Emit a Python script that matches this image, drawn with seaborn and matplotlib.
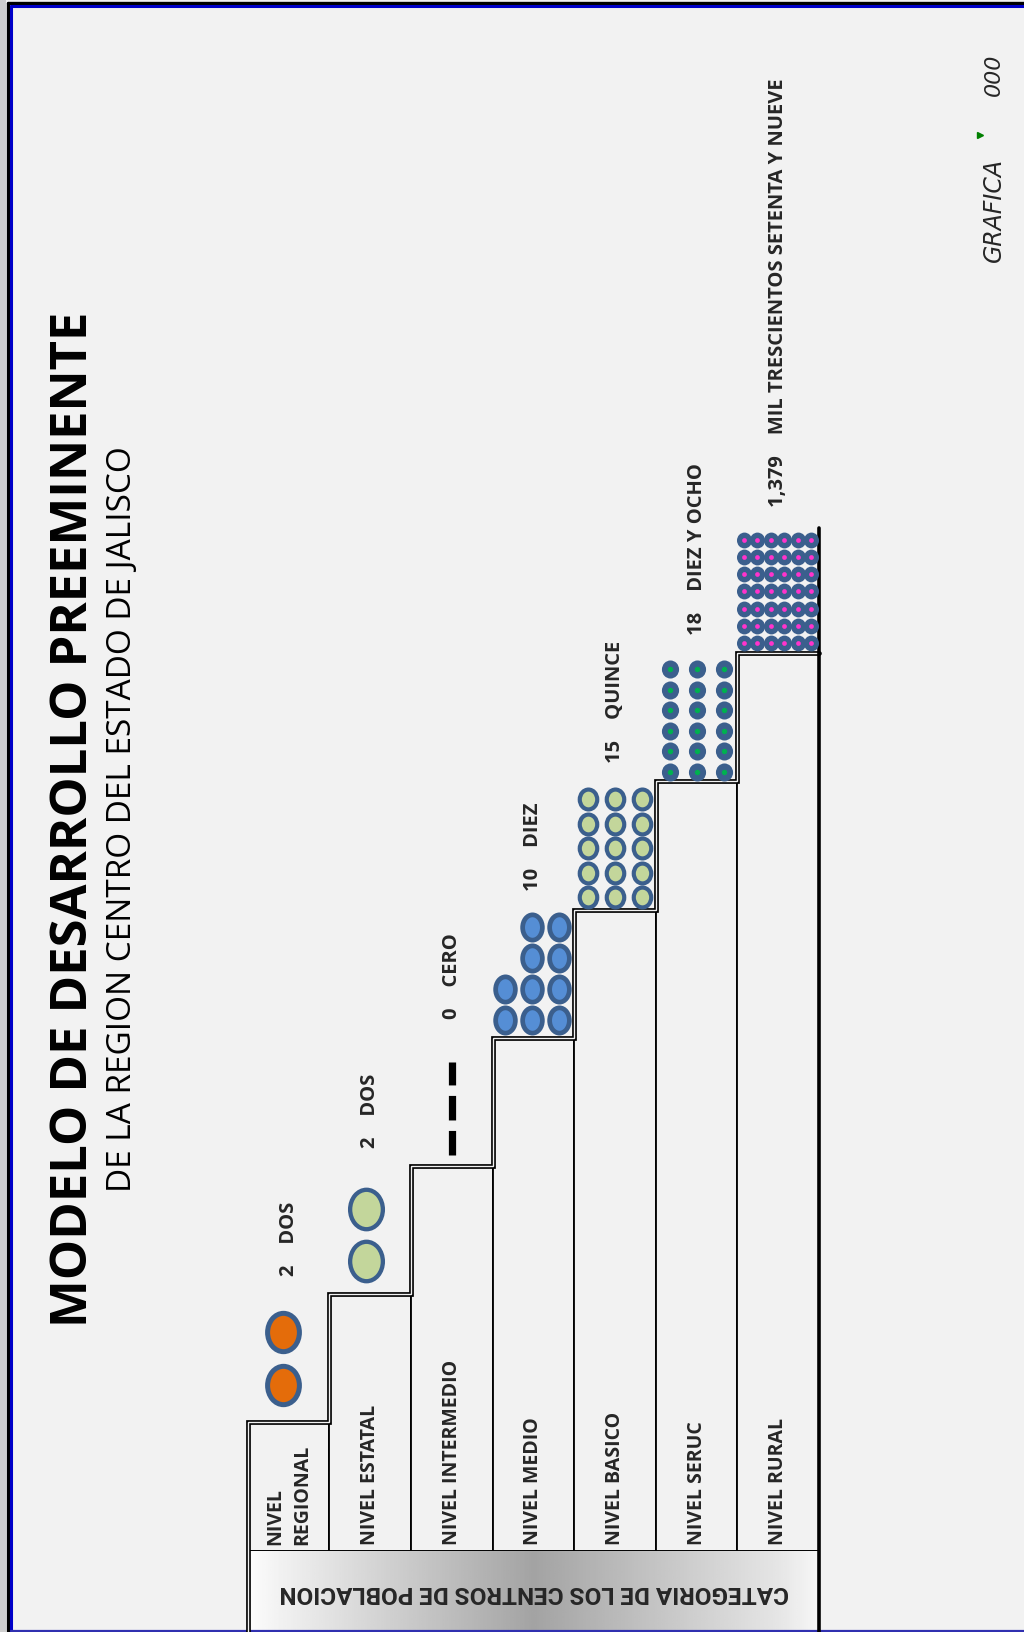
import numpy as np
import pandas as pd
import seaborn as sns
import matplotlib.pyplot as plt
from matplotlib.path import Path
from matplotlib.markers import MarkerStyle
from matplotlib.transforms import Affine2D

# data
categories = ["NIVEL\nREGIONAL", "NIVEL ESTATAL", "NIVEL INTERMEDIO", "NIVEL MEDIO",
              "NIVEL BASICO", "NIVEL SERUC", "NIVEL RURAL"]
levels = [1, 2, 3, 4, 5, 6, 7]
centros = ["2", "2", "0", "10", "15", "18", "1,379"]
centros_texto = ["DOS", "DOS", "CERO", "DIEZ", "QUINCE", "DIEZ Y OCHO",
                 "MIL TRESCIENTOS SETENTA Y NUEVE"]
iconos = [2, 2, 0, 10, 15, 18, 42]   # symbols drawn on each step

titulo = "MODELO DE DESARROLLO PREEMINENTE"
subtitulo = "DE LA REGION CENTRO DEL ESTADO DE JALISCO"
pie = "CATEGORIA DE LOS CENTROS DE POBLACION"

# symbol styles per step
icon_cols = [1, 1, 1, 3, 3, 3, 6]
icon_face = ["#e46c0a", "#c3d69b", "black", "#558ed5", "#c3d69b", "#3b5f8d", "#3b5f8d"]
icon_edge = "#3b5f8d"
icon_dot = [None, None, None, None, None, "#00b050", "#ff33cc"]
icon_h = [27.6, 28.4, 0, 18.2, 14.3, 13.0, 11.4]
icon_ratio = [0.83, 0.83, 1, 0.78, 0.88, 0.95, 0.95]
icon_lw = [3.6, 3.1, 0, 3.4, 3.0, 0, 0]
icon_dx = [0, 0, 0, 0.33, 0.331, 0.331, 0.332]
icon_pair = [0, 0, 0, 0, 0, 0, 0.153]   # rural symbols come in overlapping pairs
icon_y0 = [0.292, 0.261, 0, 0.139, 0.096, 0.076, 0.08]
icon_dy = [0.415, 0.40, 0, 0.243, 0.191, 0.16, 0.134]
icon_shift = [-0.064, -0.054, 0, -0.02, 0, 0, -0.01]

BG = "#f2f2f2"
W, H = 1024, 1632
X0, X1 = 247.7, 819.0          # staircase left / right (px)
BASE = 1550.6                  # bottom of the steps (px)
STEP = 128.2                   # px per level

sns.set_style("white")
plt.rcParams["font.family"] = ["Open Sans", "DejaVu Sans"]

fig = plt.figure(figsize=(W / 100, H / 100), dpi=100, facecolor=BG)

# background axes in pixel units
bg = fig.add_axes([0, 0, 1, 1])
bg.set_facecolor(BG)
grad = np.interp(np.linspace(0, 1, 300), [0, 0.05, 0.5, 0.93, 1], [0.99, 0.95, 0.64, 0.9, 0.97])
bg.imshow(grad[None, :], extent=(X0, X1, H, BASE), cmap="gray", vmin=0, vmax=1, aspect="auto")
bg.add_patch(plt.Rectangle((0, 0), 6, H, color="#cfcfcf", lw=0))
bg.plot([7.5, 7.5], [H, 2.5], color="black", lw=2.4)
bg.plot([7.5, W], [2.5, 2.5], color="black", lw=2.4)
bg.plot([10.5, 10.5], [H, 5.5], color="#0000c8", lw=2.2)
bg.plot([10.5, W], [5.5, 5.5], color="#0000c8", lw=2.2)
bg.plot([10.5, W], [1631, 1631], color="#3030b0", lw=1.6)
bg.set_xlim(0, W)
bg.set_ylim(H, 0)
bg.set_axis_off()

bg.text(74, 819.6, titulo, rotation=90, ha="center", va="center",
        fontsize=36.5, fontweight="bold", color="black")
bg.text(123, 819.6, subtitulo, rotation=90, ha="center", va="center",
        fontsize=24, color="black")
bg.text(534, 1592, pie, rotation=180, ha="center", va="center", fontsize=17.5,
        fontweight="bold", family=["Roboto", "DejaVu Sans"])
bg.text(994, 210, "GRAFICA", rotation=90, ha="center", va="center", fontsize=17,
        family=["DejaVu Sans"], fontstyle="italic", fontweight="light")
bg.text(994, 75, "000", rotation=90, ha="center", va="center", fontsize=16,
        family=["DejaVu Sans"], fontstyle="italic", fontweight="light")
bg.plot([980], [135], marker=">", color="green", ms=4)

# staircase axes in category / level units
ax = fig.add_axes([X0 / W, (H - BASE) / H, (X1 - X0) / W, BASE / H])
ax.patch.set_alpha(0)
sns.barplot(x=categories, y=levels, order=categories, width=1.0, color=BG,
            saturation=1, edgecolor="black", linewidth=1.3, ax=ax)
box_bottom = -(H - BASE) / STEP

xs, ys = [-0.5], [box_bottom]
for i, lv in enumerate(levels):
    xs += [i - 0.5, i + 0.5]
    ys += [lv, lv]
ax.plot(xs, ys, color="black", lw=3.4, clip_on=False, solid_joinstyle="miter", zorder=5)
ax.plot(xs, ys, color=BG, lw=1.0, clip_on=False, solid_joinstyle="miter", zorder=6)
ax.plot([6.5, 6.5], [box_bottom, 7.98], color="black", lw=2.6, clip_on=False, zorder=6)
ax.plot([-0.5, 6.5], [0, 0], color="black", lw=1.8, zorder=4)

# symbols on each step
rows = []
for i, n in enumerate(iconos):
    if n == 0:
        continue
    nc = icon_cols[i]
    nr = int(np.ceil(n / nc))
    for k in range(n):
        c = nc - 1 - k // nr
        r = k % nr
        if icon_pair[i]:
            npair = nc // 2
            xo = (c // 2 - (npair - 1) / 2) * icon_dx[i] + (c % 2 - 0.5) * icon_pair[i]
        else:
            xo = (c - (nc - 1) / 2) * icon_dx[i]
        rows.append({"grupo": i, "x": i + icon_shift[i] + xo,
                     "y": levels[i] + icon_y0[i] + r * icon_dy[i]})
df = pd.DataFrame(rows)

for i in range(len(categories)):
    sub = df[df["grupo"] == i]
    if sub.empty:
        continue
    ell = MarkerStyle(Path.unit_circle().transformed(Affine2D().scale(icon_ratio[i], 1)))
    sns.scatterplot(data=sub, x="x", y="y", marker=ell, s=icon_h[i] ** 2,
                    color=icon_face[i], edgecolor=icon_edge if icon_lw[i] else icon_face[i],
                    linewidth=icon_lw[i], legend=False, ax=ax, zorder=7)
    if icon_dot[i]:
        sns.scatterplot(data=sub, x="x", y="y", marker="o", s=(icon_h[i] * 0.3) ** 2,
                        color=icon_dot[i], linewidth=0, legend=False, ax=ax, zorder=8)

# zero centres: dashed mark
z = iconos.index(0)
ax.plot([z, z], [levels[z] + 0.087, levels[z] + 0.81], color="black", lw=5.2,
        dashes=(3.4, 1.45), solid_capstyle="butt", zorder=7)

# text
for i, cat in enumerate(categories):
    ax.text(i, 0.047, cat, rotation=90, rotation_mode="anchor", ha="left", va="center",
            fontsize=14, fontweight="bold", linespacing=1.45, zorder=9)
    ax.text(i, levels[i] + 1.143, f"{centros[i]}    {centros_texto[i]}", rotation=90,
            rotation_mode="anchor", ha="left", va="center", fontsize=14.5,
            fontweight="bold", zorder=9)

ax.set_xlim(-0.5, 6.5)
ax.set_ylim(0, BASE / STEP)
ax.set_axis_off()

fig.savefig("out.png", dpi=100, facecolor=BG)
